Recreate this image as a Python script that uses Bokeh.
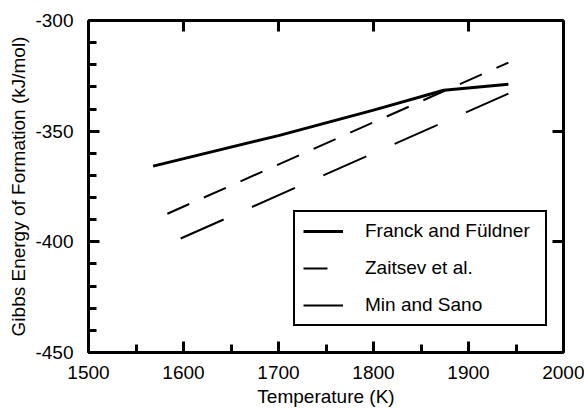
from bokeh.plotting import figure
from bokeh.models import LinearAxis, Range1d, Legend, LegendItem, FixedTicker
from bokeh.embed import file_html
from bokeh.resources import INLINE

# Data
franck_T = [1568, 1700, 1800, 1874, 1942]
franck_G = [-365.8, -352.0, -340.5, -331.5, -328.8]
zaitsev_T = [1583, 1942]
zaitsev_G = [-387.3, -319.0]
min_T = [1597, 1942]
min_G = [-398.5, -333.0]

x_ticks = [1500, 1600, 1700, 1800, 1900, 2000]
y_ticks = [-450, -400, -350, -300]

FONT = "Liberation Sans"

p = figure(width=584, height=409, output_backend="svg", toolbar_location=None,
           x_range=Range1d(1500, 2000), y_range=Range1d(-450, -300),
           min_border_left=88, min_border_right=21, min_border_top=20, min_border_bottom=57)
p.outline_line_color = None
p.grid.visible = False
p.background_fill_color = "white"
p.border_fill_color = "white"

r1 = p.line(franck_T, franck_G, line_color="black", line_width=3)
r2 = p.line(zaitsev_T, zaitsev_G, line_color="black", line_width=2, line_dash="24 16")
r3 = p.line(min_T, min_G, line_color="black", line_width=2, line_dash="47 31")

xa = p.xaxis[0]
ya = p.yaxis[0]
xa.ticker = FixedTicker(ticks=x_ticks, minor_ticks=list(range(1500, 2001, 50)))
ya.ticker = FixedTicker(ticks=y_ticks, minor_ticks=list(range(-450, -299, 10)))
xa.major_label_overrides = {t: str(t) for t in x_ticks}
ya.major_label_overrides = {t: str(t) for t in y_ticks}

for ax in (xa, ya):
    ax.axis_line_width = 3
    ax.axis_line_color = "black"
    ax.major_tick_in = 11
    ax.major_tick_out = 0
    ax.minor_tick_in = 8
    ax.minor_tick_out = 0
    ax.major_tick_line_width = 3
    ax.minor_tick_line_width = 3
    ax.major_label_text_font = FONT
    ax.major_label_text_font_size = "19px"
    ax.major_label_text_color = "black"
    ax.axis_label_text_font = FONT
    ax.axis_label_text_font_size = "19px"
    ax.axis_label_text_font_style = "normal"
    ax.axis_label_text_color = "black"

xa.axis_label = "Temperature (K)"
xa.major_label_standoff = 13
xa.axis_label_standoff = 4
ya.axis_label = "Gibbs Energy of Formation (kJ/mol)"
ya.major_label_standoff = 15
ya.axis_label_standoff = 3

top = LinearAxis(ticker=FixedTicker(ticks=x_ticks),
                 major_label_overrides={t: "" for t in x_ticks},
                 axis_line_width=3, major_tick_in=11, major_tick_out=0, major_tick_line_width=3,
                 minor_tick_in=0, minor_tick_out=0, major_label_standoff=0)
right = LinearAxis(ticker=FixedTicker(ticks=y_ticks),
                   major_label_overrides={t: "" for t in y_ticks},
                   axis_line_width=3, major_tick_in=11, major_tick_out=0, major_tick_line_width=3,
                   minor_tick_in=0, minor_tick_out=0, major_label_standoff=0)
p.add_layout(top, "above")
p.add_layout(right, "right")

legend = Legend(items=[
    LegendItem(label="Franck and Füldner", renderers=[r1]),
    LegendItem(label="Zaitsev et al.", renderers=[r2]),
    LegendItem(label="Min and Sano", renderers=[r3]),
], location=(205, 26))
legend.border_line_color = "black"
legend.border_line_width = 2
legend.border_line_alpha = 1
legend.background_fill_color = "white"
legend.background_fill_alpha = 1
legend.label_text_font = FONT
legend.label_text_font_size = "19px"
legend.label_text_color = "black"
legend.padding = 8
legend.spacing = 15
legend.glyph_width = 40
legend.glyph_height = 20
legend.label_height = 20
legend.label_standoff = 22
legend.label_width = 172
legend.margin = 0
p.add_layout(legend, "center")

open("out.html", "w").write(file_html(p, INLINE))
